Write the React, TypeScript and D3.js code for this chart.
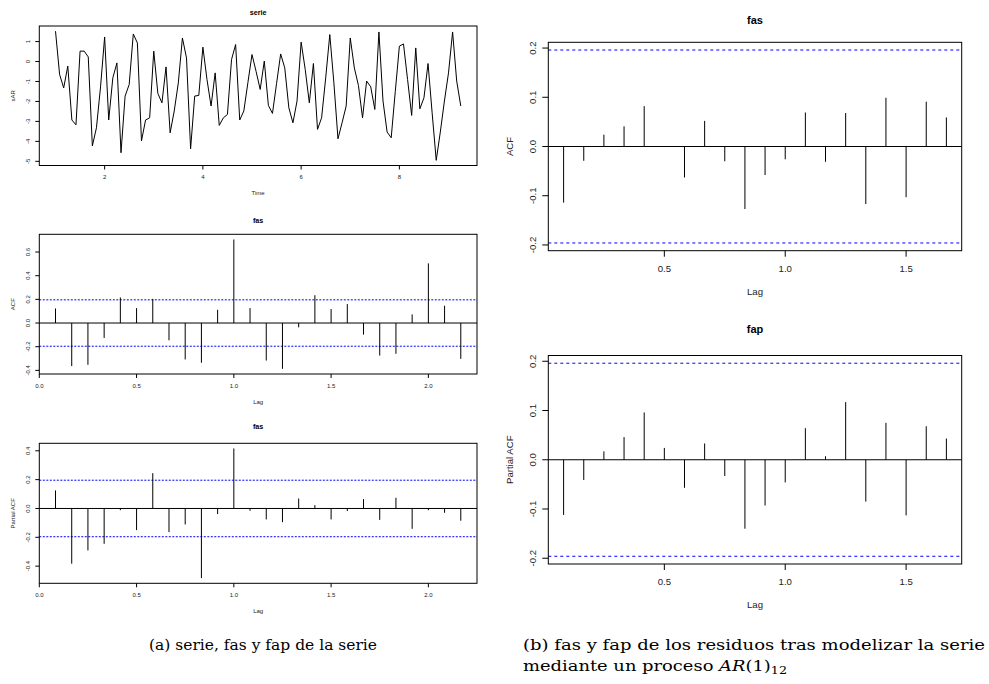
import React from "react";
import * as d3 from "d3";

// ---------- data ----------
const serieStart = 1;
const serieFreq = 12;
const serieValues = [
  1.52, -0.65, -1.32, -0.23, -2.93, -3.17, 0.52, 0.52, 0.23, -4.23,
  -3.32, -1.27, 1.23, -2.93, -0.82, -0.07, -4.57, -1.73, -1.15, 1.38,
  0.93, -3.98, -2.93, -2.82, 0.52, -1.6, -2.07, -0.27, -3.57, -2.48,
  -1.07, 1.18, 0.18, -4.37, -1.73, -1.7, 0.72, -0.9, -2.23, -0.57,
  -3.2, -2.82, -2.65, 0.1, 0.85, -2.93, -2.48, -1.05, 0.35, -0.5,
  -1.4, 0.02, -2.2, -2.6, -1.1, 0.38, -0.32, -2.32, -3.07, -1.98,
  0.97, -0.4, -2.07, -0.1, -3.4, -2.82, -0.82, 1.35, -1.07, -3.87,
  -3.07, -2.23, 1.18, -0.32, -1.2, -2.82, -0.98, -1.27, -2.4, 1.48,
  -1.98, -3.53, -3.82, -1.5, 0.77, 0.88, -0.9, -2.7, 0.68, -2.37,
  -1.82, -0.1, -2.57, -4.95, -3.53, -1.98, -0.57, 1.48, -0.98, -2.23,
];
const acfSerie = [
  0.123, -0.364, -0.353, -0.126, 0.216, 0.126, 0.204, -0.146, -0.308, -0.336,
  0.112, 0.706, 0.126, -0.317, -0.387, -0.036, 0.235, 0.118, 0.16, -0.098,
  -0.275, -0.26, 0.073, 0.504, 0.146, -0.303,
];
const pacfSerie = [
  0.125, -0.383, -0.291, -0.245, -0.012, -0.15, 0.245, -0.164, -0.111, -0.483,
  -0.039, 0.416, -0.016, -0.076, -0.095, 0.069, 0.023, -0.076, -0.018, 0.065,
  -0.079, 0.074, -0.141, -0.012, -0.03, -0.085,
];
const acfResid = [
  -0.114, -0.029, 0.024, 0.041, 0.082, -0.001, -0.063, 0.052, -0.03, -0.127,
  -0.058, -0.026, 0.069, -0.031, 0.068, -0.117, 0.099, -0.103, 0.091, 0.059,
];
const pacfResid = [
  -0.112, -0.041, 0.017, 0.046, 0.096, 0.024, -0.057, 0.033, -0.033, -0.14,
  -0.093, -0.046, 0.064, 0.007, 0.117, -0.085, 0.075, -0.113, 0.068, 0.043,
];
const lagFreq = 12;
const nObs = 100;
const ciBound = 1.96 / Math.sqrt(nObs);

const tsXTicks = [2, 4, 6, 8];
const tsYTicks = [-5, -4, -3, -2, -1, 0, 1];
const acfLeftXTicks = [0, 0.5, 1, 1.5, 2];
const acfLeftYTicks = [-0.4, -0.2, 0, 0.2, 0.4, 0.6];
const pacfLeftYTicks = [-0.4, -0.2, 0, 0.2, 0.4];
const rightXTicks = [0.5, 1, 1.5];
const rightYTicks = [-0.2, -0.1, 0, 0.1, 0.2];

// ---------- helpers ----------
const rPad = (lo: number, hi: number): [number, number] => {
  const d = (hi - lo) * 0.04;
  return [lo - d, hi + d];
};
const fmt1 = (v: number) => (Math.abs(v) < 1e-9 ? "0.0" : d3.format(".1f")(v).replace("−", "-"));
const fmtInt = (v: number) => String(v);

type PanelProps = {
  x0: number; x1: number; y0: number; y1: number;
  xDomain: [number, number]; yDomain: [number, number];
  xTicks: number[]; yTicks: number[];
  fmtX: (v: number) => string; fmtY: (v: number) => string;
  fs: number; tick: number; xLabOff: number; yLabOff: number;
  title: string; titleY: number; titleFs: number;
  xlab: string; xlabY: number; ylab: string; ylabX: number;
  render: (x: d3.ScaleLinear<number, number>, y: d3.ScaleLinear<number, number>) => React.ReactNode;
};

function Panel(p: PanelProps) {
  const x = d3.scaleLinear().domain(p.xDomain).range([p.x0, p.x1]);
  const y = d3.scaleLinear().domain(p.yDomain).range([p.y1, p.y0]);
  const cx = (p.x0 + p.x1) / 2;
  const cy = (p.y0 + p.y1) / 2;
  const font = "Liberation Sans, Arial, Helvetica, sans-serif";
  return (
    <g fontFamily={font}>
      {p.render(x, y)}
      <rect x={p.x0} y={p.y0} width={p.x1 - p.x0} height={p.y1 - p.y0} fill="none" stroke="#000" strokeWidth={1} />
      {p.xTicks.map((t) => (
        <g key={"xt" + t}>
          <line x1={x(t)} x2={x(t)} y1={p.y1} y2={p.y1 + p.tick} stroke="#000" strokeWidth={1} />
          <text x={x(t)} y={p.y1 + p.xLabOff} fontSize={p.fs} textAnchor="middle" dominantBaseline="central" fill="#222">
            {p.fmtX(t)}
          </text>
        </g>
      ))}
      {p.yTicks.map((t) => (
        <g key={"yt" + t}>
          <line x1={p.x0 - p.tick} x2={p.x0} y1={y(t)} y2={y(t)} stroke="#000" strokeWidth={1} />
          <text
            transform={`translate(${p.x0 - p.yLabOff},${y(t)}) rotate(-90)`}
            fontSize={p.fs}
            textAnchor="middle"
            dominantBaseline="central"
            fill="#222"
          >
            {p.fmtY(t)}
          </text>
        </g>
      ))}
      <text x={cx} y={p.titleY} fontSize={p.titleFs} fontWeight="bold" textAnchor="middle" dominantBaseline="central">
        {p.title}
      </text>
      <text x={cx} y={p.xlabY} fontSize={p.fs} textAnchor="middle" dominantBaseline="central" fill="#222">
        {p.xlab}
      </text>
      <text
        transform={`translate(${p.ylabX},${cy}) rotate(-90)`}
        fontSize={p.fs}
        textAnchor="middle"
        dominantBaseline="central"
        fill="#222"
      >
        {p.ylab}
      </text>
    </g>
  );
}

function acfRender(values: number[], dash: string) {
  return (x: d3.ScaleLinear<number, number>, y: d3.ScaleLinear<number, number>) => {
    const [xa, xb] = x.range();
    return (
      <g>
        <line x1={xa} x2={xb} y1={y(0)} y2={y(0)} stroke="#000" strokeWidth={1} />
        {[ciBound, -ciBound].map((c) => (
          <line key={c} x1={xa} x2={xb} y1={y(c)} y2={y(c)} stroke="#0000ff" strokeWidth={1} strokeDasharray={dash} />
        ))}
        {values.map((v, i) => (
          <line key={i} x1={x((i + 1) / lagFreq)} x2={x((i + 1) / lagFreq)} y1={y(0)} y2={y(v)} stroke="#000" strokeWidth={1} />
        ))}
      </g>
    );
  };
}

function acfDomains(values: number[]) {
  const lags = values.map((_, i) => (i + 1) / lagFreq);
  const xd = rPad(d3.min(lags)!, d3.max(lags)!);
  const yd = rPad(Math.min(d3.min(values)!, -ciBound), Math.max(d3.max(values)!, ciBound));
  return { xd, yd };
}

export default function App() {
  const times = serieValues.map((_, i) => serieStart + i / serieFreq);
  const tsXD = rPad(d3.min(times)!, d3.max(times)!);
  const tsYD = rPad(d3.min(serieValues)!, d3.max(serieValues)!);
  const aL = acfDomains(acfSerie);
  const pL = acfDomains(pacfSerie);
  const aR = acfDomains(acfResid);
  const pR = acfDomains(pacfResid);

  const left = { x0: 39.3, x1: 477, fs: 6, tick: 4, xLabOff: 11.5, yLabOff: 11, titleFs: 7.2, ylabX: 13 };
  const right = { x0: 548.3, x1: 961.7, fs: 9.6, tick: 6, xLabOff: 17.5, yLabOff: 16, titleFs: 11, ylabX: 509.5 };
  const serif = "DejaVu Serif, Liberation Serif, serif";

  return (
    <svg width={989} height={684} style={{ position: "absolute", left: 0, top: 0, background: "#fff" }}>
      <rect x={0} y={0} width={989} height={684} fill="#fff" />
      <Panel
        {...left}
        y0={26} y1={165.5}
        xDomain={tsXD} yDomain={tsYD}
        xTicks={tsXTicks} yTicks={tsYTicks}
        fmtX={fmtInt} fmtY={fmtInt}
        title="serie" titleY={12} xlab="Time" xlabY={192.5} ylab="sAR"
        render={(x, y) => (
          <path
            d={d3.line<number>().x((_, i) => x(times[i])).y((v) => y(v))(serieValues) || ""}
            fill="none" stroke="#000" strokeWidth={1} strokeLinejoin="round"
          />
        )}
      />
      <Panel
        {...left}
        y0={234.3} y1={374}
        xDomain={aL.xd} yDomain={aL.yd}
        xTicks={acfLeftXTicks} yTicks={acfLeftYTicks}
        fmtX={fmt1} fmtY={fmt1}
        title="fas" titleY={220} xlab="Lag" xlabY={401.5} ylab="ACF"
        render={acfRender(acfSerie, "2,1.5")}
      />
      <Panel
        {...left}
        y0={443.3} y1={583.3}
        xDomain={pL.xd} yDomain={pL.yd}
        xTicks={acfLeftXTicks} yTicks={pacfLeftYTicks}
        fmtX={fmt1} fmtY={fmt1}
        title="fas" titleY={426} xlab="Lag" xlabY={611} ylab="Partial ACF"
        render={acfRender(pacfSerie, "2,1.5")}
      />
      <Panel
        {...right}
        y0={42.3} y1={250.7}
        xDomain={aR.xd} yDomain={aR.yd}
        xTicks={rightXTicks} yTicks={rightYTicks}
        fmtX={fmt1} fmtY={fmt1}
        title="fas" titleY={19.5} xlab="Lag" xlabY={291} ylab="ACF"
        render={acfRender(acfResid, "3,3")}
      />
      <Panel
        {...right}
        y0={355.5} y1={564}
        xDomain={pR.xd} yDomain={pR.yd}
        xTicks={rightXTicks} yTicks={rightYTicks}
        fmtX={fmt1} fmtY={fmt1}
        title="fap" titleY={328.5} xlab="Lag" xlabY={604} ylab="Partial ACF"
        render={acfRender(pacfResid, "3,3")}
      />
      <g fontFamily={serif} fontSize={15.5} fill="#000">
        <text x={263} y={650} textAnchor="middle">(a) serie, fas y fap de la serie</text>
        <text x={523} y={650} textLength={462} lengthAdjust="spacingAndGlyphs">(b) fas y fap de los residuos tras modelizar la serie</text>
        <text x={523} y={671} textLength={264} lengthAdjust="spacingAndGlyphs">
          mediante un proceso <tspan fontStyle="italic">AR</tspan>(1)<tspan fontSize={11} dy={3}>12</tspan>
        </text>
      </g>
    </svg>
  );
}
